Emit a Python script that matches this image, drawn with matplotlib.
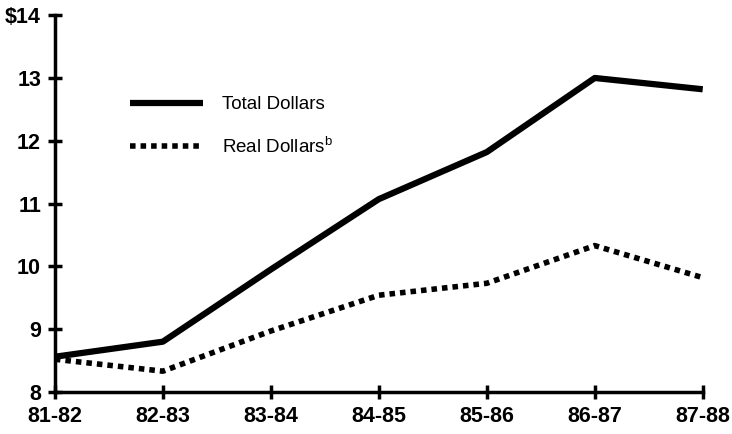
import numpy as np
import matplotlib.pyplot as plt

years = ['81-82', '82-83', '83-84', '84-85', '85-86', '86-87', '87-88']
total_dollars = [8.56, 8.80, 9.95, 11.07, 11.82, 13.00, 12.82]
real_dollars = [8.52, 8.33, 8.97, 9.54, 9.73, 10.33, 9.82]
y_ticks = [8, 9, 10, 11, 12, 13, 14]
y_labels = ['8', '9', '10', '11', '12', '13', '$14']

plt.rcParams['font.family'] = ['Liberation Sans', 'DejaVu Sans']

fig = plt.figure(figsize=(7.32, 4.34), dpi=100)
ax = fig.add_axes([0.075, 0.097, 0.885, 0.868])

x = np.arange(len(years))
ax.plot(x, total_dollars, color='black', linewidth=4.5, solid_capstyle='butt',
        label='Total Dollars')
ax.plot(x, real_dollars, color='black', linewidth=4, linestyle=(0, (1, 0.9)),
        dash_capstyle='butt', label='Real Dollars$^\\mathregular{b}$')

ax.set_xlim(0, 6)
ax.set_ylim(8, 14)
ax.set_xticks(x)
ax.set_xticklabels(years)
ax.set_yticks(y_ticks)
ax.set_yticklabels(y_labels)

for side in ['top', 'right']:
    ax.spines[side].set_visible(False)
for side in ['left', 'bottom']:
    ax.spines[side].set_linewidth(2.5)

ax.tick_params(axis='both', direction='inout', length=10, width=2.5,
               labelsize=15.5, pad=5)
for lab in ax.get_xticklabels() + ax.get_yticklabels():
    lab.set_fontweight('bold')

leg = ax.legend(loc='upper left', bbox_to_anchor=(0.09, 0.83), frameon=False,
                handlelength=3.9, handletextpad=1.0, labelspacing=1.2,
                prop={'size': 13.5})

fig.savefig('out.png', dpi=100)
